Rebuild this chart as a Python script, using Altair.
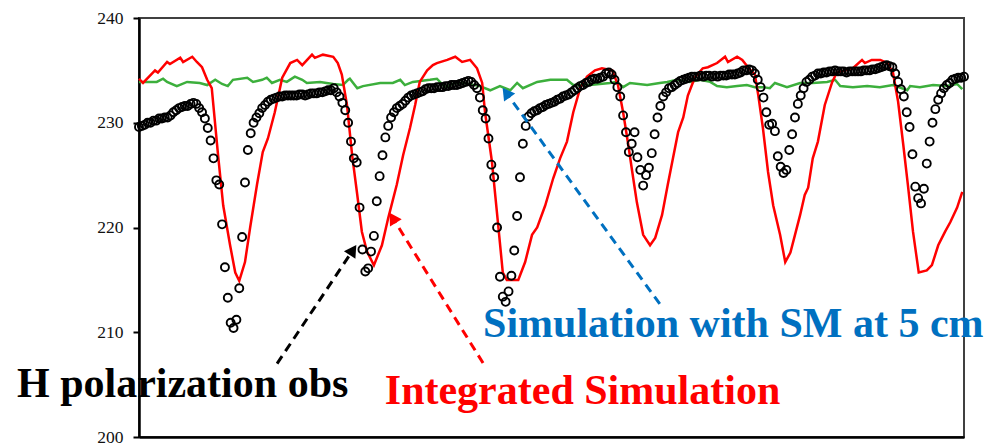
import altair as alt
import pandas as pd

# Time axis in hours (6 days). Brightness temperature in K.

# Integrated simulation (red line)
sim_hours = [0.0, 0.7, 2.8, 3.3, 4.9, 5.4, 7.2, 7.7, 9.3, 10.1, 11.0, 11.9, 12.7, 13.8, 14.7,
             15.9, 16.8, 17.5, 18.5, 19.4, 20.6, 21.6, 22.5, 23.7, 25.0, 26.4, 27.6, 28.5,
             30.2, 30.7, 32.1, 33.9, 34.7, 35.4, 36.3, 37.2, 38.1, 38.9, 39.8, 41.0, 42.4,
             43.5, 45.0, 46.1, 47.3, 48.2, 49.0, 50.3, 51.3, 52.0, 53.8, 55.2, 56.4, 57.8,
             59.0, 59.9, 60.4, 61.6, 62.7, 63.5, 64.2, 66.2, 67.4, 68.6, 69.5, 70.9, 72.3,
             73.5, 74.7, 75.8, 77.0, 78.2, 79.6, 80.8, 82.6, 83.6, 84.5, 85.4, 86.1, 86.9,
             88.0, 89.2, 90.1, 91.3, 92.3, 93.2, 94.1, 95.0, 95.8, 97.0, 98.4, 99.3, 100.9,
             102.3, 102.8, 104.4, 105.3, 106.3, 107.5, 108.1, 108.9, 109.8, 110.7, 111.9,
             112.8, 113.7, 114.5, 115.4, 116.2, 116.8, 117.6, 118.5, 119.7, 121.0, 121.8,
             123.2, 124.6, 126.2, 126.7, 127.9, 129.4, 130.6, 131.6, 132.5, 133.4, 134.2,
             135.1, 136.1, 137.5, 138.4, 139.5, 140.7, 141.6, 142.8, 143.7]
integrated_sim = [234.2, 233.8, 235.0, 234.8, 235.8, 235.6, 236.2, 235.8, 236.3, 235.8, 235.3,
                  234.1, 233.3, 226.9, 222.1, 218.3, 215.7, 214.9, 216.7, 220.0, 224.1, 227.2,
                  228.5, 231.0, 234.3, 235.7, 236.0, 235.5, 236.5, 236.2, 236.5, 236.3, 235.7,
                  234.6, 231.7, 226.9, 223.1, 219.6, 217.7, 216.4, 218.3, 220.9, 224.1, 226.9,
                  229.5, 231.7, 233.9, 235.0, 235.5, 235.7, 236.0, 236.3, 235.8, 236.0, 235.2,
                  233.8, 231.0, 226.3, 220.2, 215.7, 215.0, 215.0, 216.7, 219.3, 220.0, 222.1,
                  224.7, 226.6, 228.2, 231.0, 233.3, 234.4, 235.0, 235.2, 235.0, 233.6, 231.0,
                  227.9, 225.3, 222.4, 219.3, 218.3, 219.0, 221.2, 224.1, 226.6, 229.1, 230.5,
                  232.6, 234.3, 235.2, 235.3, 235.7, 236.3, 235.8, 236.3, 236.0, 235.3, 234.6,
                  232.6, 229.5, 225.3, 222.1, 219.3, 216.7, 217.6, 219.3, 221.2, 223.1, 223.8,
                  226.6, 228.2, 231.7, 233.9, 234.8, 235.0, 235.2, 236.0, 235.7, 236.0, 236.0,
                  235.7, 234.8, 232.0, 227.9, 224.1, 219.6, 215.7, 215.9, 216.4, 218.3, 219.6,
                  220.5, 221.9, 223.4]

# Simulation with soil moisture at 5 cm (green line)
sm5_hours = [0.0, 1.9, 3.1, 4.2, 4.9, 6.6, 8.4, 10.6, 11.9, 13.3, 14.5, 15.5, 16.4, 18.9, 19.9,
             21.5, 22.3, 23.2, 24.6, 25.8, 27.2, 28.5, 29.3, 31.6, 33.9, 35.6, 36.5, 36.8,
             38.1, 39.1, 42.1, 44.3, 45.6, 46.4, 47.8, 50.8, 52.0, 53.4, 55.2, 56.6, 59.5,
             61.3, 63.0, 64.8, 66.0, 67.0, 69.5, 71.8, 74.7, 75.8, 78.7, 82.2, 83.4, 84.5,
             85.7, 88.7, 90.9, 92.2, 93.9, 96.2, 97.9, 99.7, 100.9, 102.6, 104.4, 106.1,
             107.5, 108.9, 110.1, 111.0, 113.1, 115.4, 117.6, 120.1, 121.5, 122.4, 124.6,
             127.1, 129.3, 131.6, 134.1, 134.6, 136.3, 138.6, 141.0, 142.8, 143.7]
sm5_sim = [233.9, 233.9, 233.9, 234.2, 233.9, 233.5, 233.9, 233.8, 233.6, 234.1, 233.7, 233.5,
           234.1, 234.3, 233.9, 234.1, 234.3, 233.8, 234.1, 233.9, 234.4, 234.1, 233.8, 233.9,
           233.7, 233.6, 234.1, 234.2, 233.3, 233.5, 233.8, 233.8, 234.1, 233.6, 233.9, 234.1,
           234.2, 233.4, 233.8, 233.8, 233.5, 233.1, 233.5, 233.1, 233.8, 233.3, 233.9, 234.1,
           234.1, 233.6, 233.6, 233.8, 233.9, 233.4, 233.8, 233.6, 233.8, 233.9, 234.1, 233.9,
           234.1, 233.9, 233.5, 233.4, 233.5, 233.6, 233.4, 233.4, 233.3, 233.8, 233.4, 233.8,
           233.8, 233.9, 234.1, 233.5, 233.4, 233.5, 233.4, 233.6, 233.1, 233.5, 233.4, 233.6,
           233.5, 233.7, 233.2]

# H polarization observations, half-hourly (open circles)
h_pol_obs = [
    229.6, 229.7, 229.8, 230.0, 230.0, 230.2, 230.2, 230.4, 230.4, 230.5,
    230.5, 230.7, 231.0, 231.2, 231.4, 231.5, 231.6, 231.6, 231.8, 231.9,
    231.8, 231.4, 231.0, 230.4, 229.5, 228.3, 226.6, 224.5, 224.1, 220.3,
    216.2, 213.3, 210.9, 210.4, 211.2, 214.2, 219.1, 224.3, 227.4, 229.0,
    230.0, 230.5, 230.9, 231.4, 231.7, 232.0, 232.2, 232.3, 232.4, 232.5,
    232.5, 232.6, 232.6, 232.6, 232.6, 232.6, 232.7, 232.7, 232.6, 232.7,
    232.8, 232.8, 232.8, 232.9, 232.9, 233.0, 233.1, 233.1, 233.3, 232.9,
    232.5, 231.9, 231.2, 230.0, 228.2, 226.6, 226.2, 221.9, 217.9, 215.8,
    216.1, 217.7, 219.2, 222.5, 224.9, 226.9, 228.6, 229.7, 230.5, 231.0,
    231.4, 231.6, 231.8, 232.1, 232.4, 232.6, 232.7, 232.8, 232.9, 233.0,
    233.2, 233.3, 233.3, 233.3, 233.4, 233.4, 233.4, 233.5, 233.5, 233.6,
    233.6, 233.6, 233.7, 233.8, 233.9, 234.0, 233.9, 233.6, 233.3, 232.4,
    231.2, 230.4, 228.5, 226.0, 224.8, 220.0, 215.3, 213.4, 212.9, 213.9,
    215.4, 217.8, 221.1, 224.8, 228.0, 229.7, 230.6, 230.9, 231.1, 231.2,
    231.4, 231.5, 231.7, 231.8, 231.9, 232.0, 232.2, 232.3, 232.5, 232.6,
    232.7, 232.9, 233.1, 233.3, 233.5, 233.6, 233.8, 233.9, 234.1, 234.2,
    234.2, 234.3, 234.4, 234.7, 234.8, 234.6, 234.1, 233.4, 232.5, 230.7,
    229.1, 227.2, 228.0, 229.1, 226.7, 225.5, 224.0, 225.0, 225.7, 227.1,
    228.9, 230.5, 231.6, 232.5, 232.9, 233.3, 233.4, 233.6, 233.8, 234.0,
    234.1, 234.2, 234.3, 234.4, 234.4, 234.4, 234.5, 234.4, 234.5, 234.5,
    234.4, 234.5, 234.4, 234.5, 234.5, 234.5, 234.6, 234.6, 234.6, 234.7,
    234.8, 235.0, 235.0, 235.1, 235.0, 234.7, 234.1, 233.4, 232.4, 231.0,
    229.8, 229.9, 229.2, 226.8, 225.8, 225.2, 225.5, 227.4, 228.9, 230.5,
    231.8, 232.6, 233.3, 233.9, 234.1, 234.4, 234.5, 234.7, 234.7, 234.8,
    234.8, 234.9, 234.9, 235.0, 234.9, 234.9, 234.9, 234.8, 234.9, 234.9,
    234.9, 234.9, 234.9, 235.0, 235.0, 235.0, 235.1, 235.1, 235.2, 235.3,
    235.4, 235.5, 235.4, 235.3, 234.7, 233.9, 233.2, 232.5, 231.0, 229.6,
    227.0, 223.9, 222.8, 222.3, 223.7, 226.1, 228.2, 230.0, 231.3, 232.2,
    232.8, 233.3, 233.6, 233.8, 234.1, 234.2, 234.3, 234.3, 234.4,
]
obs_hours = [0.5 * i for i in range(len(h_pol_obs))]

y_ticks = [200, 210, 220, 230, 240]

# Annotation labels and their callout arrows
label_text = ["H polarization obs", "Integrated Simulation", "Simulation with SM at 5 cm"]
label_hour = [-21.3, 42.9, 60.05]
label_tb = [203.85, 203.15, 209.55]
label_color = ["#000000", "#FF0000", "#0070C0"]

arrow_from_hour = [24.1, 60.05, 90.9]
arrow_from_tb = [207.0, 207.06, 212.7]
arrow_to_hour = [37.35, 44.28, 64.08]
arrow_to_tb = [217.85, 220.92, 232.87]
arrow_angle = [33.7, 328.1, 323.9]
arrow_color = ["#000000", "#FF0000", "#0070C0"]

SERIF = "'Times New Roman', 'Liberation Serif', Times, serif"

sim_df = pd.DataFrame({"hour": sim_hours, "tb": integrated_sim})
sm5_df = pd.DataFrame({"hour": sm5_hours, "tb": sm5_sim})
obs_df = pd.DataFrame({"hour": obs_hours, "tb": h_pol_obs})
label_df = pd.DataFrame({"hour": label_hour, "tb": label_tb, "text": label_text, "color": label_color})
arrow_df = pd.DataFrame({"hour": arrow_from_hour, "tb": arrow_from_tb,
                         "hour2": arrow_to_hour, "tb2": arrow_to_tb,
                         "angle": arrow_angle, "color": arrow_color})

x_scale = alt.Scale(domain=[0, 144], nice=False, zero=False)
y_scale = alt.Scale(domain=[200, 240], nice=False, zero=False)

x_axis = alt.Axis(labels=False, ticks=False, grid=False, title=None,
                  domainColor="#000000", domainWidth=2.5)
y_axis = alt.Axis(values=y_ticks, grid=False, title=None,
                  labelFont=SERIF, labelFontSize=17.5, labelColor="#111111",
                  labelPadding=10, tickSize=6, tickWidth=2, tickColor="#000000",
                  domainColor="#000000", domainWidth=2.5)

X = alt.X("hour:Q", scale=x_scale, axis=x_axis)
Y = alt.Y("tb:Q", scale=y_scale, axis=y_axis)

sm5_line = alt.Chart(sm5_df).mark_line(color="#3CAF3C", strokeWidth=2.5).encode(x=X, y=Y)
sim_line = alt.Chart(sim_df).mark_line(color="#FF0000", strokeWidth=2.5).encode(x=X, y=Y)
obs_points = alt.Chart(obs_df).mark_point(
    shape="circle", filled=False, size=64, strokeWidth=1.9, color="#000000", opacity=1
).encode(x=X, y=Y)

arrow_lines = alt.Chart(arrow_df).mark_rule(strokeWidth=3, strokeDash=[9, 6]).encode(
    x=X, y=Y, x2="hour2:Q", y2="tb2:Q", color=alt.Color("color:N", scale=None)
)
arrow_heads = alt.Chart(arrow_df).mark_point(
    shape="triangle-up", filled=True, size=190, opacity=1
).encode(
    x=alt.X("hour2:Q", scale=x_scale, axis=x_axis),
    y=alt.Y("tb2:Q", scale=y_scale, axis=y_axis),
    angle=alt.Angle("angle:Q", scale=None),
    color=alt.Color("color:N", scale=None),
)

labels = alt.Chart(label_df).mark_text(
    font=SERIF, fontWeight="bold", fontSize=42, align="left", baseline="alphabetic"
).encode(x=X, y=Y, text="text:N", color=alt.Color("color:N", scale=None))

chart = alt.layer(sm5_line, sim_line, obs_points, arrow_lines, arrow_heads, labels).properties(
    width=825,
    height=419,
    padding={"left": 139, "top": 18, "right": 30, "bottom": 7},
    autosize=alt.AutoSizeParams(type="none"),
    background="#ffffff",
).configure_view(stroke="#404040", strokeWidth=2)

chart.save("out.html", embed_options={"renderer": "svg", "actions": False})
